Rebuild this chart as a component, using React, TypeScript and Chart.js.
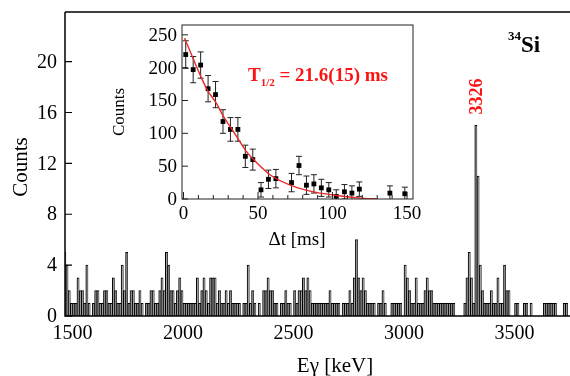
import React, { useEffect, useRef } from 'react';
import { Chart, registerables } from 'chart.js';

Chart.register(...registerables);

const FONT = "'Liberation Serif', 'Times New Roman', serif";
Chart.defaults.font.family = FONT;
const RED = 'rgb(250, 20, 20)';

// ---- main spectrum: 10 keV bins starting at 1460 keV ----
const SPECTRUM_START_KEV = 1460;
const SPECTRUM_BIN_KEV = 10;
const counts1460 = [5, 4, 2, 1, 1, 1, 3, 2, 2, 1, 4, 1, 0, 1, 2, 2, 1, 1, 2, 2, 1, 1, 3, 2, 1, 1, 4, 2, 5, 1, 2, 2, 1, 1, 2, 1, 0, 1, 1, 2, 2, 1, 1, 2, 3, 2, 5, 4, 2, 2, 1, 2, 3, 2, 1, 1, 1];
const counts2030 = [1, 1, 1, 3, 1, 2, 3, 2, 1, 3, 3, 3, 1, 2, 1, 1, 2, 1, 2, 1, 1, 1, 1, 0, 1, 1, 4, 1, 2, 1, 0, 1, 0, 2, 2, 3, 2, 2, 1, 1, 0, 1, 1, 2, 1, 1, 0, 2, 1, 2, 2, 3, 2, 3, 2, 1, 1, 1, 1];
const counts2620 = [1, 1, 1, 1, 2, 1, 1, 1, 1, 0, 1, 1, 1, 2, 1, 3, 6, 3, 2, 3, 2, 1, 1, 1, 1, 0, 1, 1, 2, 1, 0, 0, 1, 1, 1, 1, 1, 0, 4, 3, 2, 1, 1, 3, 1, 1, 1, 2, 3, 2, 2, 1, 1, 1, 1, 1, 1];
const counts3190 = [1, 1, 1, 1, 0, 0, 0, 0, 1, 3, 5, 3, 1, 15, 11, 4, 2, 1, 1, 1, 2, 1, 1, 3, 1, 1, 4, 2, 2, 0, 0, 1, 1, 0, 0, 1, 1, 0, 1, 0, 0, 0, 0, 0, 1, 1, 1, 1, 1, 1, 0, 0, 0, 1, 1, 0, 0];
const spectrumCounts = [...counts1460, ...counts2030, ...counts2620, ...counts3190];

const energyTicks = [1500, 2000, 2500, 3000, 3500];
const countTicks = [0, 4, 8, 12, 16, 20];

// ---- inset: decay curve ----
const decayTimes = [1.5, 6.5, 11.5, 16.5, 21.5, 26.5, 31.5, 36.5, 41.5, 46.5, 52, 57, 62, 72.5, 77.5, 82.5, 87.5, 92.5, 97.5, 102.5, 108, 113, 118, 138.5, 148.5];
const decayCounts = [220, 197, 204, 168, 159, 118, 106, 106, 65, 60, 14, 30, 31, 25, 51, 21, 23, 17, 14, 4, 11, 9, 15, 9, 8];
const decayErrors = [21, 20, 20, 20, 20, 18, 18, 18, 17, 16, 11, 14, 14, 14, 14, 14, 14, 13, 11, 10, 11, 11, 11, 11, 10];
const fitTimes = [0.7, 5, 10, 16, 22, 27, 32, 42, 47, 58, 73, 89, 104, 121, 130];
const fitCounts = [245, 222, 195, 166, 146, 125, 108, 73, 60, 37, 20, 10, 5, 1, 0];
const decayTimeTicks = [0, 50, 100, 150];
const decayCountTicks = [0, 50, 100, 150, 200, 250];

const hiddenTicks = { display: false, autoSkip: false };

function mainConfig(): any {
  const framePlugin = {
    id: 'mainFrame',
    afterDatasetsDraw(chart: any) {
      const { ctx, chartArea: a, scales } = chart;
      ctx.save();
      ctx.strokeStyle = '#000';
      ctx.lineWidth = 1.5;
      ctx.beginPath();
      ctx.moveTo(a.left, a.top);
      ctx.lineTo(a.right, a.top);
      ctx.moveTo(a.left, a.top);
      ctx.lineTo(a.left, a.bottom);
      ctx.lineTo(a.right, a.bottom);
      ctx.stroke();
      ctx.lineWidth = 1.2;
      ctx.beginPath();
      for (const v of countTicks) {
        const y = scales.y.getPixelForValue(v);
        ctx.moveTo(a.left, y);
        ctx.lineTo(a.left + 7, y);
      }
      ctx.stroke();
      // tick labels
      ctx.fillStyle = '#000';
      ctx.font = `20px ${FONT}`;
      ctx.textBaseline = 'middle';
      ctx.textAlign = 'right';
      for (const v of countTicks) {
        ctx.fillText(String(v), a.left - 8, scales.y.getPixelForValue(v) + 1);
      }
      ctx.textAlign = 'center';
      for (const v of energyTicks) {
        ctx.fillText(String(v), scales.x.getPixelForValue(v), a.bottom + 18);
      }
      // axis titles
      ctx.font = `21px ${FONT}`;
      ctx.fillText('Eγ [keV]', 335, 366);
      ctx.save();
      ctx.translate(21, 167);
      ctx.rotate(-Math.PI / 2);
      ctx.fillText('Counts', 0, 0);
      ctx.restore();
      // nucleus label
      ctx.textAlign = 'left';
      ctx.textBaseline = 'alphabetic';
      ctx.font = `bold 13px ${FONT}`;
      ctx.fillText('34', 508, 40);
      ctx.font = `bold 23px ${FONT}`;
      ctx.fillText('Si', 521, 52);
      // peak label
      ctx.fillStyle = RED;
      ctx.font = `bold 18px ${FONT}`;
      ctx.textAlign = 'center';
      ctx.textBaseline = 'middle';
      ctx.translate(477, 96.5);
      ctx.rotate(-Math.PI / 2);
      ctx.fillText('3326', 0, 0);
      ctx.restore();
    },
  };

  return {
    type: 'bar',
    data: {
      datasets: [
        {
          data: spectrumCounts.map((c, i) => ({ x: SPECTRUM_START_KEV + SPECTRUM_BIN_KEV * (i + 0.5), y: c })),
          backgroundColor: '#9c9c9c',
          borderColor: '#000000',
          borderWidth: { left: 1, top: 1, right: 0.6, bottom: 0 },
          barPercentage: 1,
          categoryPercentage: 1,
        },
      ],
    },
    options: {
      responsive: false,
      animation: false,
      devicePixelRatio: 1,
      layout: { padding: { top: 12, left: 0, right: 0, bottom: 0 } },
      plugins: { legend: { display: false }, tooltip: { enabled: false } },
      scales: {
        x: {
          type: 'linear',
          offset: false,
          min: 1466,
          max: 3751,
          grid: { display: false, drawTicks: false, offset: false },
          border: { display: false },
          afterBuildTicks: (s: any) => {
            s.ticks = energyTicks.map((v) => ({ value: v }));
          },
          afterFit: (s: any) => {
            s.height = 60;
            s.paddingLeft = 0;
            s.paddingRight = 0;
          },
          ticks: hiddenTicks,
        },
        y: {
          type: 'linear',
          min: 0,
          max: 23.9,
          grid: { display: false, drawTicks: false },
          border: { display: false },
          afterBuildTicks: (s: any) => {
            s.ticks = countTicks.map((v) => ({ value: v }));
          },
          afterFit: (s: any) => {
            s.width = 65;
            s.paddingTop = 0;
            s.paddingBottom = 0;
          },
          ticks: hiddenTicks,
        },
      },
    },
    plugins: [framePlugin],
  };
}

function insetConfig(): any {
  const insetPlugin = {
    id: 'insetDecor',
    beforeDraw(chart: any) {
      const { ctx, chartArea: a } = chart;
      ctx.save();
      ctx.fillStyle = '#fff';
      ctx.fillRect(a.left, a.top, a.right - a.left, a.bottom - a.top);
      ctx.restore();
    },
    beforeDatasetsDraw(chart: any) {
      const { ctx, chartArea: a, scales } = chart;
      ctx.save();
      ctx.beginPath();
      ctx.rect(a.left, a.top, a.right - a.left, a.bottom - a.top);
      ctx.clip();
      ctx.strokeStyle = '#222';
      ctx.lineWidth = 1;
      ctx.beginPath();
      decayTimes.forEach((t, i) => {
        const x = scales.x.getPixelForValue(t);
        const yHi = scales.y.getPixelForValue(decayCounts[i] + decayErrors[i]);
        const yLo = scales.y.getPixelForValue(decayCounts[i] - decayErrors[i]);
        ctx.moveTo(x, yHi);
        ctx.lineTo(x, yLo);
        ctx.moveTo(x - 3, yHi);
        ctx.lineTo(x + 3, yHi);
        ctx.moveTo(x - 3, yLo);
        ctx.lineTo(x + 3, yLo);
      });
      ctx.stroke();
      ctx.restore();
    },
    afterDatasetsDraw(chart: any) {
      const { ctx, chartArea: a, scales } = chart;
      ctx.save();
      ctx.strokeStyle = '#222';
      ctx.lineWidth = 1;
      ctx.strokeRect(a.left, a.top, a.right - a.left, a.bottom - a.top);
      ctx.beginPath();
      for (let t = 0; t <= 150; t += 10) {
        const x = scales.x.getPixelForValue(t);
        const len = t % 50 === 0 ? 7 : 4;
        ctx.moveTo(x, a.bottom);
        ctx.lineTo(x, a.bottom - len);
      }
      for (const v of decayCountTicks) {
        const y = scales.y.getPixelForValue(v);
        ctx.moveTo(a.left, y);
        ctx.lineTo(a.left + 6, y);
      }
      ctx.stroke();
      // tick labels
      ctx.fillStyle = '#000';
      ctx.font = `19px ${FONT}`;
      ctx.textBaseline = 'middle';
      ctx.textAlign = 'right';
      for (const v of decayCountTicks) {
        ctx.fillText(String(v), a.left - 5, scales.y.getPixelForValue(v) + 1);
      }
      ctx.textAlign = 'center';
      for (const v of decayTimeTicks) {
        ctx.fillText(String(v), scales.x.getPixelForValue(v), a.bottom + 15);
      }
      ctx.fillText('Δt [ms]', 197, 225);
      ctx.save();
      ctx.font = `17px ${FONT}`;
      ctx.translate(20, 97);
      ctx.rotate(-Math.PI / 2);
      ctx.fillText('Counts', 0, 0);
      ctx.restore();
      // half-life annotation
      ctx.fillStyle = RED;
      ctx.textAlign = 'left';
      ctx.textBaseline = 'alphabetic';
      let x = 148;
      const y = 65.5;
      ctx.font = `bold 19px ${FONT}`;
      ctx.fillText('T', x, y);
      x += ctx.measureText('T').width;
      ctx.font = `bold 11px ${FONT}`;
      ctx.fillText('1/2', x, y + 5);
      x += ctx.measureText('1/2').width;
      ctx.font = `bold 19px ${FONT}`;
      ctx.fillText(' = 21.6(15) ms', x, y);
      ctx.restore();
    },
  };

  return {
    type: 'scatter',
    data: {
      datasets: [
        {
          type: 'line',
          data: fitTimes.map((t, i) => ({ x: t, y: fitCounts[i] })),
          borderColor: 'rgb(235, 40, 40)',
          borderWidth: 1.4,
          pointRadius: 0,
          cubicInterpolationMode: 'monotone',
          fill: false,
        },
        {
          data: decayTimes.map((t, i) => ({ x: t, y: decayCounts[i] })),
          pointStyle: 'rect',
          pointRadius: 3.4,
          backgroundColor: '#000',
          borderColor: '#000',
          borderWidth: 0,
        },
      ],
    },
    options: {
      responsive: false,
      animation: false,
      devicePixelRatio: 1,
      layout: { padding: { top: 10, left: 0, right: 17, bottom: 0 } },
      plugins: { legend: { display: false }, tooltip: { enabled: false } },
      scales: {
        x: {
          type: 'linear',
          min: -1,
          max: 154,
          grid: { display: false, drawTicks: false },
          border: { display: false },
          afterBuildTicks: (s: any) => {
            s.ticks = decayTimeTicks.map((v) => ({ value: v }));
          },
          afterFit: (s: any) => {
            s.height = 61;
            s.paddingLeft = 0;
            s.paddingRight = 0;
          },
          ticks: hiddenTicks,
        },
        y: {
          type: 'linear',
          min: 0,
          max: 265,
          grid: { display: false, drawTicks: false },
          border: { display: false },
          afterBuildTicks: (s: any) => {
            s.ticks = decayCountTicks.map((v) => ({ value: v }));
          },
          afterFit: (s: any) => {
            s.width = 82;
            s.paddingTop = 0;
            s.paddingBottom = 0;
          },
          ticks: hiddenTicks,
        },
      },
    },
    plugins: [insetPlugin],
  };
}

export default function App() {
  const mainRef = useRef<HTMLCanvasElement>(null);
  const insetRef = useRef<HTMLCanvasElement>(null);

  useEffect(() => {
    const main = new Chart(mainRef.current as HTMLCanvasElement, mainConfig());
    const inset = new Chart(insetRef.current as HTMLCanvasElement, insetConfig());
    return () => {
      main.destroy();
      inset.destroy();
    };
  }, []);

  return (
    <div style={{ position: 'absolute', left: 0, top: 0, width: 570, height: 376, background: '#fff', overflow: 'hidden' }}>
      <canvas ref={mainRef} width={570} height={376} style={{ position: 'absolute', left: 0, top: 0, width: 570, height: 376 }} />
      <canvas ref={insetRef} width={330} height={245} style={{ position: 'absolute', left: 100, top: 15, width: 330, height: 245 }} />
    </div>
  );
}
